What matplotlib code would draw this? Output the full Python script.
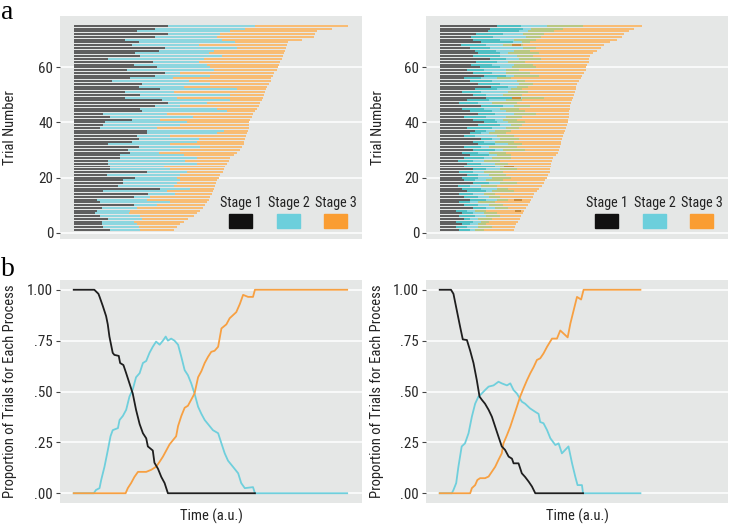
import os
import matplotlib
matplotlib.use("Agg")
import matplotlib.pyplot as plt
from matplotlib import font_manager
from matplotlib.font_manager import FontProperties
from matplotlib.patches import Rectangle
import numpy as np

# ---- data: panel a, left (serial stages), trials 1..75 ----
trials = np.arange(1, 76)
left_s1 = [13.3, 10.8, 10.2, 10.2, 12.6, 9.6, 7.8, 8.4, 10.2, 21.8,
           9.6, 8.4, 21.8, 27.2, 10.8, 31.5, 16.3, 18.1, 18.1, 22.4,
           12.0, 26.6, 13.2, 13.2, 12.6, 12.6, 16.9, 16.9, 20.6, 19.9,
           23.6, 12.6, 21.2, 23.6, 23.0, 26.6, 26.6, 9.6, 10.8, 11.4,
           21.2, 13.2, 10.8, 24.8, 24.2, 29.7, 34.5, 32.0, 18.7, 24.2,
           18.7, 31.5, 23.6, 24.8, 13.9, 20.6, 29.7, 33.3, 19.3, 30.3,
           21.8, 29.0, 12.6, 24.2, 22.4, 30.9, 33.3, 21.2, 23.6, 18.7,
           29.7, 34.5, 23.0, 29.7, 34.5]
left_s2 = [24.2, 23.6, 23.0, 21.8, 24.8, 24.2, 20.0, 20.6, 23.0, 30.3,
           35.1, 26.6, 27.9, 37.0, 34.0, 42.4, 36.4, 37.6, 38.8, 37.6,
           38.8, 41.2, 35.1, 32.7, 44.9, 40.6, 44.9, 40.0, 30.9, 38.8,
           46.1, 35.1, 44.9, 45.5, 35.1, 52.2, 54.6, 30.3, 38.8, 41.2,
           31.5, 43.5, 34.0, 55.9, 52.2, 38.8, 48.5, 57.0, 37.6, 57.0,
           36.4, 59.5, 40.0, 49.7, 42.1, 36.0, 49.7, 38.8, 51.0, 49.7,
           48.5, 45.5, 47.3, 54.0, 49.1, 51.0, 59.5, 45.5, 58.9, 54.0,
           52.2, 53.4, 57.0, 62.5, 66.2]
left_s3 = [36.4, 37.6, 38.8, 40.0, 41.8, 43.7, 44.9, 46.0, 47.0, 47.9,
           48.5, 49.1, 49.7, 50.4, 50.7, 51.2, 51.5, 51.9, 52.2, 52.8,
           53.4, 54.4, 54.8, 55.2, 55.8, 56.4, 56.8, 58.2, 59.5, 60.7,
           61.3, 61.9, 62.2, 62.5, 62.8, 63.1, 63.4, 63.7, 63.7, 64.0,
           64.3, 64.9, 65.3, 66.2, 66.8, 67.4, 68.0, 68.6, 69.0, 69.4,
           69.8, 70.1, 70.4, 71.0, 71.7, 72.0, 72.5, 73.0, 74.0, 74.4,
           74.7, 75.3, 75.9, 76.2, 76.5, 77.0, 77.3, 77.7, 78.0, 83.0,
           87.5, 88.0, 88.7, 94.0, 100.0]

# ---- data: panel a, right (cascaded stages) ----
# stage 2 start, stage 1 end, stage 3 start, stage 2 end, stage 3 end
right_s2_on = [7, 6, 8, 6, 9, 7, 8, 6, 12, 9,
               7, 11, 9, 7, 10, 8, 6.5, 12, 9, 8,
               10, 7, 12, 9, 10, 6.5, 9, 11, 8, 12,
               9, 14, 12, 15, 9, 11, 13, 10, 14, 16,
               12, 9, 14, 11, 8, 15, 7, 10, 17, 12,
               8, 13, 18.5, 14, 11, 9, 16, 12, 10, 14.5,
               11.5, 13.3, 18.2, 12.1, 13.9, 12.7, 10.9, 7.9, 15.1, 12.1,
               11.5, 13.3, 17.6, 18.2, 20.8]
right_s1_off = [11, 10, 11, 12, 11, 13, 12, 10, 17, 14,
                11, 17, 14, 12, 17, 15, 11, 18, 13, 14,
                14, 12, 17, 20, 15, 12, 16, 18, 14, 20,
                15, 20, 16, 19, 13, 15, 17, 19, 22, 21,
                20, 17, 20, 19, 16, 23, 14, 18, 28, 17,
                15, 21, 25, 22, 19, 15, 24, 19, 16, 22,
                19, 21, 24, 22, 21.8, 20.6, 18.2, 17, 26.6, 21.8,
                19.4, 23, 29, 30.3, 29.7]
right_s3_on = [13, 14, 14, 15, 14, 17, 16, 13, 20, 18,
               14, 21, 18, 16, 19, 21, 15, 22, 17, 19,
               18, 16, 22, 22, 20, 16, 19, 21, 18, 23,
               18, 25, 20, 22, 21, 18, 20, 24, 26, 25,
               23, 24, 27, 24, 22, 27, 19, 24, 30, 23,
               25, 26, 28, 29, 28, 21, 27, 24, 24, 26.5,
               27, 25, 29, 28, 25, 27, 30.3, 23, 30, 27,
               31.6, 30.3, 32, 33.4, 39]
right_s2_off = [16, 19, 17, 18, 19, 22, 21, 17, 25, 23,
                20, 25, 22, 20, 27, 25, 21, 28, 23, 26,
                24, 23, 28, 27, 25, 22, 26, 26, 24, 31,
                28, 30, 27, 29, 27, 24, 26, 29, 30, 31,
                28, 30, 35, 31, 29, 33, 28, 30, 38, 30,
                32, 30, 32, 34, 31, 26, 36, 33, 29, 35,
                34, 31, 37, 34, 36, 33, 35, 30.3, 33, 35,
                37, 38, 41.5, 45, 52.3]
right_end = [26.9, 27.5, 27.9, 28.4, 29.1, 29.6, 30.3, 30.8, 31.5, 32.0,
             32.8, 33.3, 33.9, 34.5, 35.3, 36.0, 37.1, 37.9, 38.5, 39.1,
             39.6, 40.0, 40.3, 40.6, 40.7, 40.9, 41.3, 42.2, 43.0, 43.4,
             43.7, 44.0, 44.3, 44.6, 44.9, 45.2, 45.6, 46.0, 46.3, 46.7,
             46.9, 47.0, 47.0, 47.1, 47.3, 47.6, 47.9, 48.2, 48.5, 48.8,
             49.1, 49.5, 49.8, 50.0, 50.7, 51.3, 52.0, 52.5, 53.1, 53.4,
             53.7, 54.3, 54.3, 54.9, 56.0, 57.4, 58.6, 59.8, 62.2, 64.7,
             66.3, 67.0, 69.0, 70.7, 73.8]
# stage 1 / stage 3 overlaps
brown_trial = [8, 12, 24, 49, 68]
brown_on = [27.5, 27.0, 23.5, 26.5, 26.5]
brown_off = [29.5, 30.0, 27.0, 29.5, 29.5]

# ---- data: panel b, proportions over time ----
lb_black_t = [0, 7.5, 9, 9.4, 10.6, 11.8, 12.4, 13, 14.2, 14.8, 16.4, 16.9, 18.1, 19.1,
              20.3, 21.5, 22.7, 24, 25.2, 26.4, 27, 28.8, 29.4, 30.7, 31.9, 33.1, 34.3, 66]
lb_black_y = [1, 1, .98, .966, .92, .87, .83, .77, .69, .68, .675, .64, .63, .59,
              .54, .49, .41, .34, .295, .27, .23, .21, .15, .12, .08, .05, 0, 0]
lb_cyan_t = [0, 7.3, 8.1, 9.4, 10, 11.2, 12.4, 13.4, 14.2, 16.1, 16.7, 17.9, 19.1, 20.3,
             21.5, 22.7, 24, 25.2, 26.4, 27.6, 28.8, 30, 31.3, 32.5, 33.5, 34.3, 35.5,
             36.7, 38, 39.2, 40.4, 41.6, 42.8, 44, 45.3, 46.5, 47.7, 48.9, 50.7, 52.6,
             53.8, 55, 56.2, 58, 59.9, 61, 62.3, 65.3, 66, 99.6]
lb_cyan_y = [0, 0, .016, .025, .065, .13, .21, .28, .31, .32, .36, .38, .41, .475,
             .51, .57, .59, .64, .65, .69, .72, .745, .73, .75, .77, .75, .76,
             .75, .73, .67, .605, .58, .54, .49, .425, .39, .36, .34, .31, .295,
             .245, .196, .16, .13, .098, .05, .025, .03, 0, 0]
lb_orange_t = [0, 18.9, 19.7, 20.9, 22.1, 23.4, 26.4, 28.2, 30, 31.3, 32.5, 33.7, 34.9,
               36.1, 37.3, 38, 39.2, 40.4, 41.6, 42.8, 44, 45.3, 46.5, 47.7, 48.9, 50.1,
               51.3, 52.6, 53.8, 55.6, 56.8, 58, 59.2, 60.5, 61.7, 63.5, 65.3, 66, 99.6]
lb_orange_y = [0, 0, .025, .05, .08, .105, .105, .115, .13, .155, .18, .21, .24,
               .26, .28, .33, .38, .42, .43, .46, .49, .57, .60, .64, .67, .695,
               .70, .72, .81, .83, .86, .875, .89, .93, .975, .965, .965, 1, 1]

rb_black_t = [0, 4.1, 5, 6.2, 7.4, 8.4, 9.9, 11.1, 12.3, 13.5, 14.5, 15.3, 16.5, 17.8,
              19, 20.2, 21.4, 22.6, 23.8, 25.1, 26.3, 26.9, 28.7, 29.9, 31.1, 32.4,
              33.6, 34.8, 52.2]
rb_black_y = [1, 1, .98, .9, .82, .756, .753, .70, .64, .556, .475, .46, .44, .41,
              .376, .327, .278, .23, .213, .18, .17, .147, .147, .098, .08, .057,
              .033, 0, 0]
rb_cyan_t = [0, 4.4, 5, 6, 6.8, 8, 9.2, 10.5, 11.7, 12.9, 14.1, 15.3, 16.5, 17.8, 19.6,
             21.4, 22.6, 24.5, 25.7, 26.9, 28.1, 29.9, 31.1, 32.9, 34.8, 36, 36.6,
             37.8, 39.1, 40.3, 42.1, 43.3, 44.5, 45.7, 46.9, 48.2, 49.4, 50.2, 51.8,
             52.2, 73.1]
rb_cyan_y = [0, 0, .016, .05, .13, .23, .245, .295, .376, .44, .475, .49, .507, .524, .53,
             .548, .54, .53, .54, .507, .49, .45, .44, .417, .40, .39, .35,
             .344, .31, .27, .237, .245, .196, .213, .23, .147, .08, .04, .04,
             0, 0]
rb_orange_t = [0, 11.1, 11.7, 12.9, 13.7, 14.7, 16.5, 17.8, 19, 20.2, 21.4, 22.6, 23.2,
               24.5, 25.7, 26.9, 28.1, 29.3, 30.5, 31.8, 33, 34.2, 35.4, 36.6, 37.8,
               39.1, 40.9, 42.7, 43.9, 45.1, 46.6, 47.6, 48.8, 50, 51.5, 52.4, 73.1]
rb_orange_y = [0, 0, .025, .04, .065, .074, .074, .082, .106, .13, .164, .196, .245,
               .286, .327, .376, .425, .475, .515, .556, .59, .62, .655, .663, .687,
               .72, .76, .76, .80, .785, .766, .835, .90, .965, .952, 1, 1]

# ---- font: look for a condensed sans, else Liberation Sans ----
prefs = ["liberationsansnarrow-regular", "robotocondensed-regular",
         "notosans-condensed.", "opensans-condensed", "opensans_condensed-regular",
         "dejavusanscondensed."]
cond = None
files = [f.fname for f in font_manager.fontManager.ttflist]
for p in prefs:
    for fn in files:
        if os.path.basename(fn).lower().startswith(p):
            cond = fn
            break
    if cond:
        break

if cond:
    def fp(size):
        return FontProperties(fname=cond, size=size)
    TS, GS, LS = 10.8, 10.2, 10.5
else:
    def fp(size):
        return FontProperties(family="Liberation Sans", size=size)
    TS, GS, LS = 9, 8.6, 9.2

BG = "#e5e7e6"
GRAY, CYAN, ORANGE = "#5f5f5f", "#8dd6df", "#f8bc74"
TEAL, GREEN, BROWN = "#4fbfc3", "#b9c882", "#c98a3a"
LINE_K, LINE_C, LINE_O = "#1e1e1e", "#6fcfdc", "#f7a042"

W, H = 733, 527
fig = plt.figure(figsize=(W / 100, H / 100), dpi=100)


def axpos(x0, x1, y0, y1):
    return [x0 / W, 1 - y1 / H, (x1 - x0) / W, (y1 - y0) / H]


def style(ax):
    ax.set_facecolor(BG)
    for s in ax.spines.values():
        s.set_visible(False)
    ax.grid(axis="y", color="white", lw=1.1)
    ax.set_axisbelow(True)
    ax.set_xticks([])
    ax.tick_params(axis="y", length=3, width=0.8, color="#444444",
                   labelcolor="#2a2a2a", pad=2)
    ax.set_xlim(-5, 105)


def fix_ticks(ax):
    for lab in ax.get_yticklabels():
        lab.set_fontproperties(fp(TS))


def legend(ax):
    xs = [0.598, 0.758, 0.913]
    cols = ["#111111", "#6ccfdc", "#fa9d32"]
    for i in range(3):
        ax.text(xs[i], 0.16, "Stage %d" % (i + 1), transform=ax.transAxes,
                ha="center", va="center", fontproperties=fp(GS), color="#222222")
        ax.add_patch(Rectangle((xs[i] - 0.038, 0.048), 0.076, 0.064,
                               transform=ax.transAxes, color=cols[i], zorder=5))


ax1 = fig.add_axes(axpos(60, 362, 16, 239))
ax2 = fig.add_axes(axpos(426, 728, 16, 239))
ax3 = fig.add_axes(axpos(60, 362, 280, 503))
ax4 = fig.add_axes(axpos(426, 728, 280, 503))

s1 = np.array(left_s1); s2 = np.array(left_s2); s3 = np.array(left_s3)
bh = 0.72
ax1.barh(trials, s1, left=0, height=bh, color=GRAY, lw=0)
ax1.barh(trials, s2 - s1, left=s1, height=bh, color=CYAN, lw=0)
ax1.barh(trials, s3 - s2, left=s2, height=bh, color=ORANGE, lw=0)

r_on = np.array(right_s2_on); r_off1 = np.array(right_s1_off)
r_on3 = np.array(right_s3_on); r_off2 = np.array(right_s2_off); r_end = np.array(right_end)
ax2.barh(trials, r_on, left=0, height=bh, color=GRAY, lw=0)
ax2.barh(trials, r_off1 - r_on, left=r_on, height=bh, color=TEAL, lw=0)
ax2.barh(trials, r_on3 - r_off1, left=r_off1, height=bh, color=CYAN, lw=0)
ax2.barh(trials, r_off2 - r_on3, left=r_on3, height=bh, color=GREEN, lw=0)
ax2.barh(trials, r_end - r_off2, left=r_off2, height=bh, color=ORANGE, lw=0)
ax2.barh(brown_trial, np.array(brown_off) - np.array(brown_on), left=brown_on,
         height=bh, color=BROWN, lw=0)

for ax in (ax1, ax2):
    style(ax)
    ax.set_ylim(-2.3, 78.6)
    ax.set_yticks([0, 20, 40, 60])
    fix_ticks(ax)
    ax.set_ylabel("Trial Number", fontproperties=fp(LS), color="#222222")
    legend(ax)
ax1.yaxis.set_label_coords(-0.142, 0.5)
ax2.yaxis.set_label_coords(-0.136, 0.5)

ax3.plot(lb_cyan_t, lb_cyan_y, color=LINE_C, lw=1.3)
ax3.plot(lb_orange_t, lb_orange_y, color=LINE_O, lw=1.3)
ax3.plot(lb_black_t, lb_black_y, color=LINE_K, lw=1.3)
ax4.plot(rb_cyan_t, rb_cyan_y, color=LINE_C, lw=1.3)
ax4.plot(rb_orange_t, rb_orange_y, color=LINE_O, lw=1.3)
ax4.plot(rb_black_t, rb_black_y, color=LINE_K, lw=1.3)

for ax in (ax3, ax4):
    style(ax)
    ax.set_ylim(-0.048, 1.048)
    ax.set_yticks([0, .25, .5, .75, 1])
    ax.set_yticklabels([".00", ".25", ".50", ".75", "1.00"])
    fix_ticks(ax)
    ax.set_ylabel("Proportion of Trials for Each Process", fontproperties=fp(LS),
                  color="#222222")
    ax.set_xlabel("Time (a.u.)", fontproperties=fp(LS), color="#222222")
    ax.xaxis.set_label_coords(0.5, -0.025)
ax3.yaxis.set_label_coords(-0.143, 0.5)
ax4.yaxis.set_label_coords(-0.139, 0.5)

fig.text(0.002, 1 - 19 / H, "a", fontsize=20, family="Liberation Serif", va="baseline")
fig.text(0.002, 1 - 276 / H, "b", fontsize=20, family="Liberation Serif", va="baseline")

fig.savefig("out.png", dpi=100)
